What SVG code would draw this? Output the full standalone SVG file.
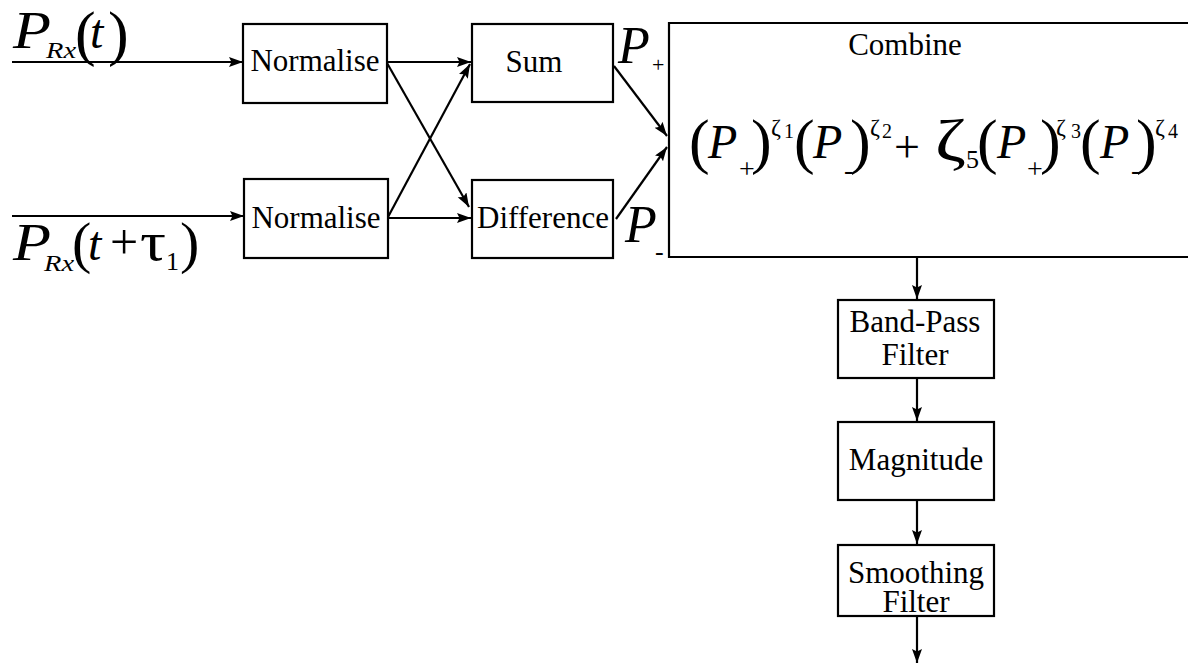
<svg xmlns="http://www.w3.org/2000/svg" width="1188" height="666" viewBox="0 0 1188 666">
<style>
.box{fill:#fff;stroke:#000;stroke-width:2.2}
.ln{fill:none;stroke:#000;stroke-width:2.2}
</style>
<defs>
<marker id="ah" markerUnits="userSpaceOnUse" markerWidth="16" markerHeight="12" refX="14" refY="5" orient="auto">
<path d="M0,0 L14,5 L0,10 L2.5,5 z" fill="#000"/>
</marker>
</defs>
<rect width="1188" height="666" fill="#fff"/>

<g id="connectors">
<line class="ln" x1="12" y1="62" x2="243" y2="62" marker-end="url(#ah)"/>
<line class="ln" x1="12" y1="216" x2="244" y2="216" marker-end="url(#ah)"/>
<line class="ln" x1="387" y1="62" x2="471" y2="62" marker-end="url(#ah)"/>
<line class="ln" x1="387" y1="63" x2="469" y2="207" marker-end="url(#ah)"/>
<line class="ln" x1="388" y1="217" x2="470" y2="64" marker-end="url(#ah)"/>
<line class="ln" x1="388" y1="218" x2="471" y2="218" marker-end="url(#ah)"/>
<line class="ln" x1="614" y1="66" x2="667" y2="136" marker-end="url(#ah)"/>
<line class="ln" x1="616" y1="219" x2="667" y2="147" marker-end="url(#ah)"/>
<line class="ln" x1="917" y1="258" x2="917" y2="299" marker-end="url(#ah)"/>
<line class="ln" x1="917" y1="378" x2="917" y2="421" marker-end="url(#ah)"/>
<line class="ln" x1="917" y1="500" x2="917" y2="544" marker-end="url(#ah)"/>
<line class="ln" x1="917" y1="616" x2="917" y2="663" marker-end="url(#ah)"/>
</g>

<g font-family="Liberation Serif, Times New Roman, serif" fill="#000">
<g id="in1">
<text font-style="italic" x="13" y="48" font-size="52" textLength="38" lengthAdjust="spacingAndGlyphs">P</text>
<text font-style="italic" x="46" y="58" font-size="24" textLength="30" lengthAdjust="spacingAndGlyphs">Rx</text>
<text x="75" y="54" font-size="62">(</text>
<text font-style="italic" x="90" y="48" font-size="48">t</text>
<text x="108" y="54" font-size="62">)</text>
</g>

<g id="in2">
<text font-style="italic" x="13" y="260" font-size="52" textLength="38" lengthAdjust="spacingAndGlyphs">P</text>
<text font-style="italic" x="44" y="271" font-size="24" textLength="30" lengthAdjust="spacingAndGlyphs">Rx</text>
<text x="72" y="262" font-size="58">(</text>
<text font-style="italic" x="88" y="260" font-size="48">t</text>
<text x="110" y="259" font-size="50">+</text>
<text x="140" y="260" font-size="54" textLength="26" lengthAdjust="spacingAndGlyphs">τ</text>
<text x="166" y="270" font-size="26">1</text>
<text x="180" y="262" font-size="58">)</text>
</g>

<g id="norm1" font-size="31">
<rect class="box" x="243" y="24" width="144" height="79"/>
<text x="315" y="71" text-anchor="middle">Normalise</text>
</g>
<g id="norm2" font-size="31">
<rect class="box" x="244" y="179" width="144" height="79"/>
<text x="316" y="228" text-anchor="middle">Normalise</text>
</g>
<g id="sum" font-size="31">
<rect class="box" x="472" y="24" width="141" height="78"/>
<text x="534" y="72" text-anchor="middle">Sum</text>
</g>
<g id="diff" font-size="31">
<rect class="box" x="472" y="180" width="141" height="78"/>
<text x="543" y="228" text-anchor="middle">Difference</text>
</g>

<g id="pplus">
<text font-style="italic" x="618" y="63" font-size="52">P</text>
<text x="652" y="72" font-size="22">+</text>
</g>
<g id="pminus">
<text font-style="italic" x="625" y="242" font-size="52">P</text>
<text x="655" y="260" font-size="26">-</text>
</g>

<g id="combine">
<path class="ln" d="M1190,23 H669 V257 H1190"/>
<text x="905" y="55" text-anchor="middle" font-size="31">Combine</text>
<text x="689" y="162" font-size="62">(</text>
<text font-style="italic" x="708" y="158" font-size="48">P</text>
<text x="739" y="178" font-size="28">+</text>
<text x="751" y="162" font-size="62">)</text>
<text x="771" y="135" font-size="24">ζ</text>
<text x="784" y="138" font-size="20">1</text>
<text x="794" y="162" font-size="62">(</text>
<text font-style="italic" x="813" y="158" font-size="48">P</text>
<text x="844" y="179" font-size="28">-</text>
<text x="850" y="162" font-size="62">)</text>
<text x="870" y="135" font-size="24">ζ</text>
<text x="882" y="138" font-size="20">2</text>
<text x="894" y="162" font-size="46">+</text>
<text x="935" y="160" font-size="60" textLength="31" lengthAdjust="spacingAndGlyphs">ζ</text>
<text x="966" y="168" font-size="26">5</text>
<text x="977" y="162" font-size="62">(</text>
<text font-style="italic" x="997" y="158" font-size="48">P</text>
<text x="1027" y="178" font-size="28">+</text>
<text x="1040" y="162" font-size="62">)</text>
<text x="1056" y="135" font-size="24">ζ</text>
<text x="1071" y="138" font-size="20">3</text>
<text x="1080" y="162" font-size="62">(</text>
<text font-style="italic" x="1100" y="158" font-size="48">P</text>
<text x="1131" y="179" font-size="28">-</text>
<text x="1136" y="162" font-size="62">)</text>
<text x="1155" y="135" font-size="24">ζ</text>
<text x="1168" y="138" font-size="20">4</text>
</g>

<g id="bandpass" font-size="31">
<rect class="box" x="838" y="300" width="156" height="78"/>
<text x="915" y="332" text-anchor="middle">Band-Pass</text>
<text x="915" y="365" text-anchor="middle">Filter</text>
</g>
<g id="magnitude" font-size="31">
<rect class="box" x="838" y="422" width="156" height="78"/>
<text x="916" y="470" text-anchor="middle">Magnitude</text>
</g>
<g id="smoothing" font-size="31">
<rect class="box" x="838" y="545" width="156" height="71"/>
<text x="916" y="583" text-anchor="middle">Smoothing</text>
<text x="916" y="612" text-anchor="middle">Filter</text>
</g>
</g>
</svg>
